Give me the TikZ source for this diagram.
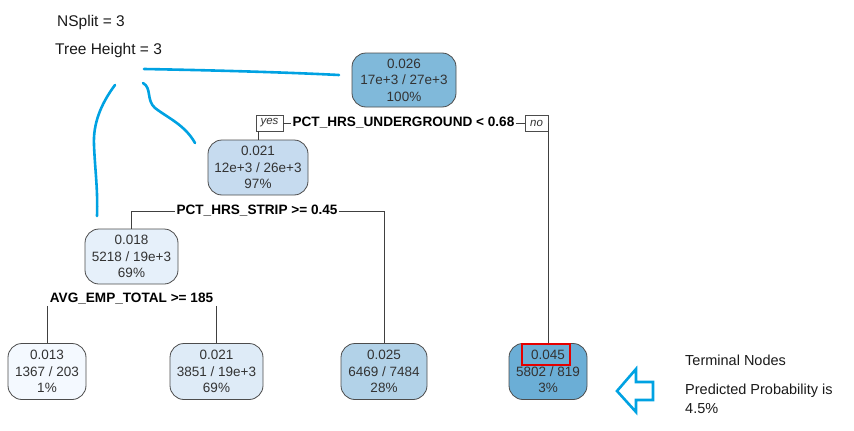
\documentclass[tikz,border=0pt]{standalone}
\usepackage{fontspec}
\setmainfont{Liberation Sans}
\begin{document}
\begin{tikzpicture}[x=1pt,y=-1pt,
  tnode/.style={draw=black!70, line width=0.8pt, rounded corners=14pt, inner sep=0pt, align=center,
    font=\fontsize{13.5}{16.5}\selectfont, text=black!80},
  splitlbl/.style={fill=white, inner sep=1pt, font=\bfseries\fontsize{13.6}{15}\selectfont},
  ynbox/.style={draw=black!70, line width=0.6pt, fill=white, inner sep=0pt, minimum height=16pt,
    font=\itshape\fontsize{11.5}{13}\selectfont, text=black!80},
  conn/.style={draw=black!75, line width=0.8pt},
  hand/.style={draw=handblue, line width=2.6pt, line cap=round, line join=round},
  note/.style={anchor=west, inner sep=0pt, align=left, text=black!90}]
\definecolor{handblue}{RGB}{0,162,226}
\definecolor{c026}{RGB}{128,185,218}
\definecolor{c021a}{RGB}{198,219,239}
\definecolor{c018}{RGB}{230,240,250}
\definecolor{c013}{RGB}{244,249,255}
\definecolor{c021b}{RGB}{222,235,247}
\definecolor{c025}{RGB}{178,210,232}
\definecolor{c045}{RGB}{107,174,214}
\useasboundingbox (0,0) rectangle (854,431);

% tree nodes
\node[tnode, fill=c026, minimum width=104pt, minimum height=54pt] (root) at (404,80) {0.026\\17e+3 / 27e+3\\100\%};
\node[tnode, fill=c021a, minimum width=100pt, minimum height=55pt] (n021a) at (258,167.5) {0.021\\12e+3 / 26e+3\\97\%};
\node[tnode, fill=c018, minimum width=93pt, minimum height=55pt] (n018) at (131.5,256.5) {0.018\\5218 / 19e+3\\69\%};
\node[tnode, fill=c013, minimum width=78pt, minimum height=56pt] (n013) at (47,371.5) {0.013\\1367 / 203\\1\%};
\node[tnode, fill=c021b, minimum width=93pt, minimum height=56pt] (n021b) at (216.5,371.5) {0.021\\3851 / 19e+3\\69\%};
\node[tnode, fill=c025, minimum width=86pt, minimum height=56pt] (n025) at (384,371.5) {0.025\\6469 / 7484\\28\%};
\node[tnode, fill=c045, minimum width=78pt, minimum height=56pt] (n045) at (548,371.5) {0.045\\5802 / 819\\3\%};

% split labels
\node[ynbox, minimum width=27pt] (yes) at (269.5,123) {yes};
\node[splitlbl] (s1) at (403.5,123) {PCT\_HRS\_UNDERGROUND < 0.68};
\node[ynbox, minimum width=23pt] (no) at (536.5,123) {no};
\node[splitlbl] (s2) at (257,211) {PCT\_HRS\_STRIP >= 0.45};
\node[splitlbl] (s3) at (131.5,299) {AVG\_EMP\_TOTAL >= 185};

% connectors
\draw[conn] (n021a.north) -- (n021a.north |- yes.south);
\draw[conn] (yes.east) -- (s1.west);
\draw[conn] (s1.east) -- (no.west);
\draw[conn] (no.east) -| (n045.north);
\draw[conn] (n018.north) |- (s2.west);
\draw[conn] (s2.east) -| (n025.north);
\draw[conn] (n013.north |- s3.south) -- (n013.north);
\draw[conn] (n021b.north |- s3.south) -- (n021b.north);

% red highlight
\node[draw=red!90!black, line width=2pt, minimum width=48pt, minimum height=21pt, inner sep=0pt] (hl) at (545.5,354.5) {};

% annotations
\node[note, font=\fontsize{15.5}{18}\selectfont] (ns) at (57,22) {NSplit = 3};
\node[note, font=\fontsize{15.5}{18}\selectfont] (th) at (55,50) {Tree Height = 3};
\node[note, font=\fontsize{14.5}{17}\selectfont] (tn) at (685,360) {Terminal Nodes};
\node[note, font=\fontsize{14.5}{19}\selectfont] (pp) at (685,398.5) {Predicted Probability is\\4.5\%};

% hand-drawn blue marks
\draw[hand] (144,69) .. controls (200,70) and (280,72) .. (339,75);
\draw[hand] (143,83) .. controls (152,88) and (146,100) .. (155,108)
  .. controls (168,118) and (185,125) .. (195,143);
\draw[hand] (115,85) .. controls (100,105) and (93,125) .. (94,145)
  .. controls (95,170) and (98,190) .. (97,216);

% hollow arrow
\draw[handblue, line width=2.6pt, line join=miter] (617,391) -- (636,369) -- (636,382) -- (653,382)
  -- (653,400) -- (636,400) -- (636,412) -- cycle;
\end{tikzpicture}
\end{document}
